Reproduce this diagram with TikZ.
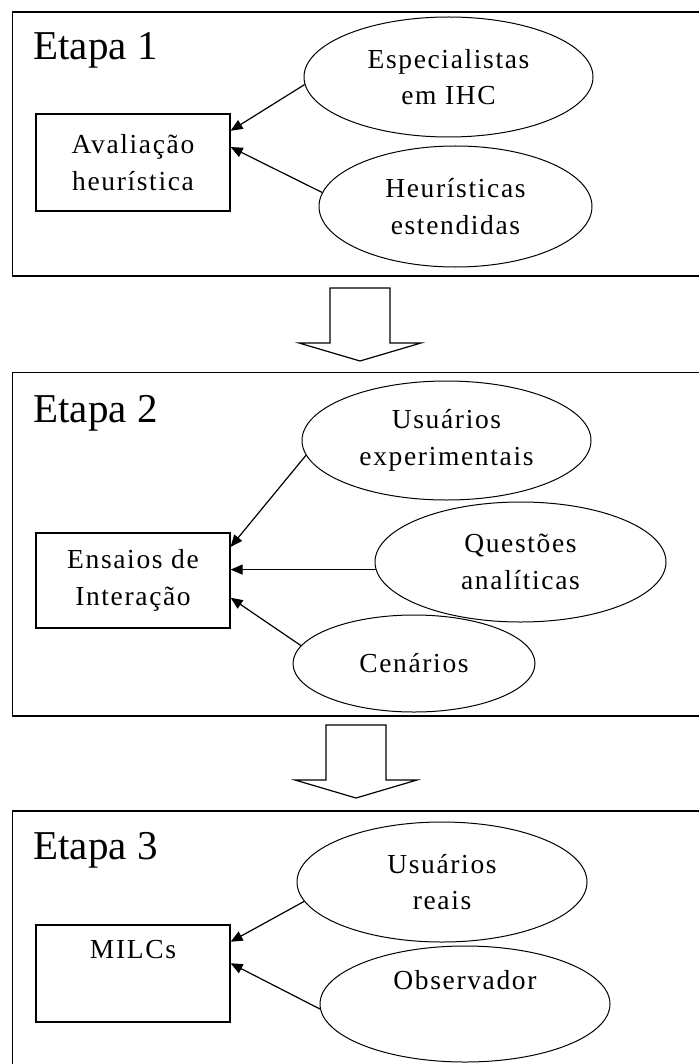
\documentclass[tikz,border=0pt]{standalone}
\usepackage{fontspec}
\setmainfont{Liberation Serif}
\newfontfamily\espacada[LetterSpace=6]{Liberation Serif}
\usetikzlibrary{shapes.geometric,arrows.meta,positioning}

\begin{document}
\begin{tikzpicture}
            [>={Triangle[length=6pt,width=5pt]},
            x=0.5pt,y=-0.5pt,
            every node/.style={font=\espacada\fontsize{13.75}{18.25}\selectfont,align=center},
            caixa/.style={rectangle,draw,line width=0.6pt,minimum width=97pt,minimum height=48.5pt,inner sep=0pt},
            elipse/.style={ellipse,draw,line width=0.5pt,inner sep=0pt},
            etapa/.style={anchor=base west,inner sep=0pt,font=\fontsize{20.5}{24}\selectfont},
            quadro/.style={draw,line width=0.7pt},
            seta/.style={->,line width=0.6pt}
            ]
            \path[use as bounding box,clip] (0,0) rectangle (699,1064);
            % etapa 1
            \draw[quadro] (12.5,12) rectangle (720,276);
            \node[etapa] (T1) at (33,60) {Etapa 1};
            \node[caixa] (R1) at (133,162.5) {Avaliação\\heurística};
            \node[elipse,minimum width=144.5pt,minimum height=60pt] (E11) at (448.5,77) {Especialistas\\em IHC};
            \node[elipse,minimum width=136.5pt,minimum height=60.5pt] (E12) at (455.5,206.5) {Heurísticas\\estendidas};
            \draw[seta] (E11.183) -- (R1.18);
            \draw[seta] (E12.174) -- (R1.9);
            % etapa 2
            \draw[quadro] (12.5,372.5) rectangle (720,716);
            \node[etapa] (T2) at (33,422) {Etapa 2};
            \node[caixa,minimum height=47.5pt] (R2) at (133,580.5) {Ensaios de\\Interação};
            \node[elipse,minimum width=144.5pt,minimum height=59.5pt] (E21) at (446.5,440.5) {Usuários\\experimentais};
            \node[elipse,minimum width=145.5pt,minimum height=60pt] (E22) at (520.5,562) {Questões\\analíticas};
            \node[elipse,minimum width=121pt,minimum height=48.5pt] (E23) at (414,663.5) {Cenários};
            \draw[seta] (E21.186) -- (R2.19);
            \draw[seta] (E22.183) -- (R2.east |- E22.183);
            \draw[seta] (E23.171) -- (R2.350);
            % etapa 3
            \draw[quadro] (12.5,811) rectangle (720,1090);
            \node[etapa] (T3) at (33,859) {Etapa 3};
            \node[caixa] (R3) at (133,973.5) {MILCs\\\strut};
            \node[elipse,minimum width=145pt,minimum height=60pt] (E31) at (442,882) {Usuários\\reais};
            \node[elipse,minimum width=145pt,minimum height=58pt] (E32) at (465,1004) {Observador\\\strut};
            \draw[seta] (E31.188) -- (R3.18);
            \draw[seta] (E32.182) -- (R3.6);
            % setas entre etapas
            \foreach \x/\y in {360/288,356/725}
              \draw[line width=0.6pt] (\x-30,\y) -- (\x+30,\y) -- (\x+30,\y+55) -- (\x+61,\y+55) -- (\x,\y+73) -- (\x-61,\y+55) -- (\x-30,\y+55) -- cycle;
          \end{tikzpicture}
\end{document}
